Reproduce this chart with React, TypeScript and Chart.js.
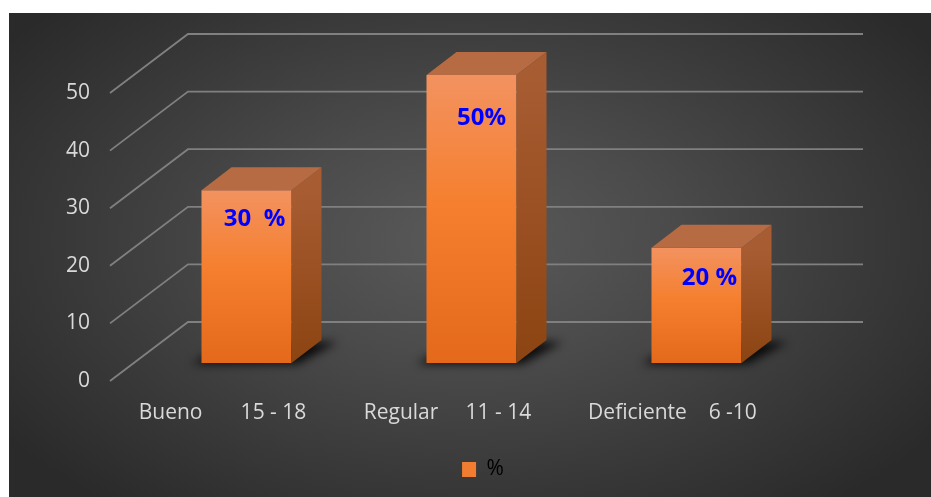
import React, { useEffect, useRef } from 'react';
import { Chart, registerables } from 'chart.js';

Chart.register(...registerables);

// ---- data ----
const categories = ['Bueno       15 - 18', 'Regular     11 - 14', 'Deficiente    6 -10'];
const values = [30, 50, 20];
const valueLabels = ['30  %', '50%', '20 %'];
const seriesName = '%';
const yMin = 0;
const yMax = 50;
const yStep = 10;

// ---- 3D geometry (oblique projection) ----
const BAR_SHIFT = { dx: 24, dy: -18 };
const BAR_DEPTH = { dx: 30, dy: -23 };
const WALL = { dx: 78, dy: -59 };
const LABEL_NUDGE_X = [8, 10, 13];
const LABEL_NUDGE_Y = [29, 43, 30];

const FONT = "'Open Sans', sans-serif";

const box3d = {
  id: 'box3d',
  beforeDatasetsDraw(chart: any) {
    const { ctx, chartArea, scales } = chart;
    const ys = scales.y;
    ctx.save();
    ctx.strokeStyle = '#808080';
    ctx.lineWidth = 1.8;
    ys.ticks.forEach((t: any) => {
      const py = ys.getPixelForValue(t.value);
      ctx.beginPath();
      ctx.moveTo(chartArea.left, py);
      ctx.lineTo(chartArea.left + WALL.dx, py + WALL.dy);
      ctx.lineTo(chartArea.right + WALL.dx, py + WALL.dy);
      ctx.stroke();
    });
    // floor shadows
    const meta = chart.getDatasetMeta(0);
    ctx.filter = 'blur(5px)';
    ctx.fillStyle = 'rgba(0,0,0,0.85)';
    meta.data.forEach((el: any) => {
      const { x, base, width } = el.getProps(['x', 'base', 'width'], true);
      const l = x - width / 2 + BAR_SHIFT.dx;
      const r = x + width / 2 + BAR_SHIFT.dx;
      const b = base + BAR_SHIFT.dy;
      ctx.beginPath();
      ctx.moveTo(l - 10, b + 1);
      ctx.lineTo(r + 6, b + 1);
      ctx.lineTo(r + BAR_DEPTH.dx + 16, b + BAR_DEPTH.dy + 2);
      ctx.lineTo(l + BAR_DEPTH.dx, b + BAR_DEPTH.dy + 2);
      ctx.closePath();
      ctx.fill();
    });
    ctx.restore();
  },
  beforeDatasetDraw(chart: any) {
    chart.ctx.save();
    chart.ctx.translate(BAR_SHIFT.dx, BAR_SHIFT.dy);
  },
  afterDatasetDraw(chart: any, args: any) {
    const ctx = chart.ctx;
    args.meta.data.forEach((el: any, i: number) => {
      const { x, y, base, width } = el.getProps(['x', 'y', 'base', 'width'], true);
      const l = x - width / 2;
      const r = x + width / 2;
      // side face
      const gs = ctx.createLinearGradient(0, y, 0, base);
      gs.addColorStop(0, '#A85C32');
      gs.addColorStop(1, '#8C4412');
      ctx.fillStyle = gs;
      ctx.beginPath();
      ctx.moveTo(r, y);
      ctx.lineTo(r + BAR_DEPTH.dx, y + BAR_DEPTH.dy);
      ctx.lineTo(r + BAR_DEPTH.dx, base + BAR_DEPTH.dy);
      ctx.lineTo(r, base);
      ctx.closePath();
      ctx.fill();
      // top face
      ctx.fillStyle = '#B76B43';
      ctx.beginPath();
      ctx.moveTo(l, y);
      ctx.lineTo(l + BAR_DEPTH.dx, y + BAR_DEPTH.dy);
      ctx.lineTo(r + BAR_DEPTH.dx, y + BAR_DEPTH.dy);
      ctx.lineTo(r, y);
      ctx.closePath();
      ctx.fill();
      // value label
      ctx.fillStyle = '#0000FF';
      ctx.font = `bold 24px ${FONT}`;
      ctx.textAlign = 'center';
      ctx.textBaseline = 'middle';
      ctx.fillText(valueLabels[i], x + LABEL_NUDGE_X[i], y + LABEL_NUDGE_Y[i]);
    });
    ctx.restore();
  },
};

export default function App() {
  const ref = useRef<HTMLCanvasElement>(null);
  useEffect(() => {
    if (!ref.current) return;
    const chart = new Chart(ref.current, {
      type: 'bar',
      data: {
        labels: categories,
        datasets: [
          {
            label: seriesName,
            data: values,
            clip: false as any,
            barPercentage: 0.4,
            categoryPercentage: 1,
            borderWidth: 0,
            backgroundColor: (c: any) => {
              const ch = c.chart;
              const ys = ch.scales?.y;
              if (!ys || c.parsed == null) return '#F27D31';
              const top = ys.getPixelForValue(c.parsed.y);
              const bot = ys.getPixelForValue(0);
              const g = ch.ctx.createLinearGradient(0, top, 0, bot);
              g.addColorStop(0, '#F39260');
              g.addColorStop(0.45, '#F57F2E');
              g.addColorStop(1, '#E4691B');
              return g;
            },
          },
        ],
      },
      options: {
        responsive: false,
        animation: false,
        events: [],
        layout: { padding: { left: 26, right: 0, top: 80, bottom: 7 } },
        plugins: {
          tooltip: { enabled: false },
          legend: {
            position: 'bottom',
            labels: {
              color: '#d9d9d9',
              font: { family: FONT, size: 21 },
              boxWidth: 14,
              boxHeight: 15,
              padding: 10,
              generateLabels: () => [
                {
                  text: seriesName,
                  fillStyle: '#F27D31',
                  strokeStyle: '#F27D31',
                  lineWidth: 0,
                  hidden: false,
                  datasetIndex: 0,
                } as any,
              ],
            },
          },
        },
        scales: {
          x: {
            grid: { display: false, drawTicks: false },
            border: { display: false },
            ticks: {
              color: '#d9d9d9',
              font: { family: FONT, size: 21 },
              padding: 19,
              maxRotation: 0,
              autoSkip: false,
            },
            afterFit: (s: any) => {
              s.height = 68;
            },
          },
          y: {
            min: yMin,
            max: yMax,
            grid: { display: false, drawTicks: false },
            border: { display: false },
            ticks: {
              stepSize: yStep,
              color: '#d9d9d9',
              font: { family: FONT, size: 21 },
              padding: 20,
            },
            afterFit: (s: any) => {
              s.width = 75;
            },
          },
          y2: {
            type: 'linear',
            position: 'right',
            grid: { display: false, drawTicks: false },
            border: { display: false },
            ticks: { display: false },
            afterFit: (s: any) => {
              s.width = 146;
            },
          },
        },
      },
      plugins: [box3d],
    } as any);
    return () => chart.destroy();
  }, []);

  return (
    <div
      style={{
        position: 'absolute',
        left: 9,
        top: 13,
        width: 922,
        height: 484,
        background:
          'radial-gradient(ellipse 62% 70% at 50% 47%, #5a5a5a 0%, #4b4b4b 35%, #393939 70%, #2a2a2a 100%)',
      }}
    >
      <canvas ref={ref} width={922} height={484} style={{ display: 'block' }} />
    </div>
  );
}
